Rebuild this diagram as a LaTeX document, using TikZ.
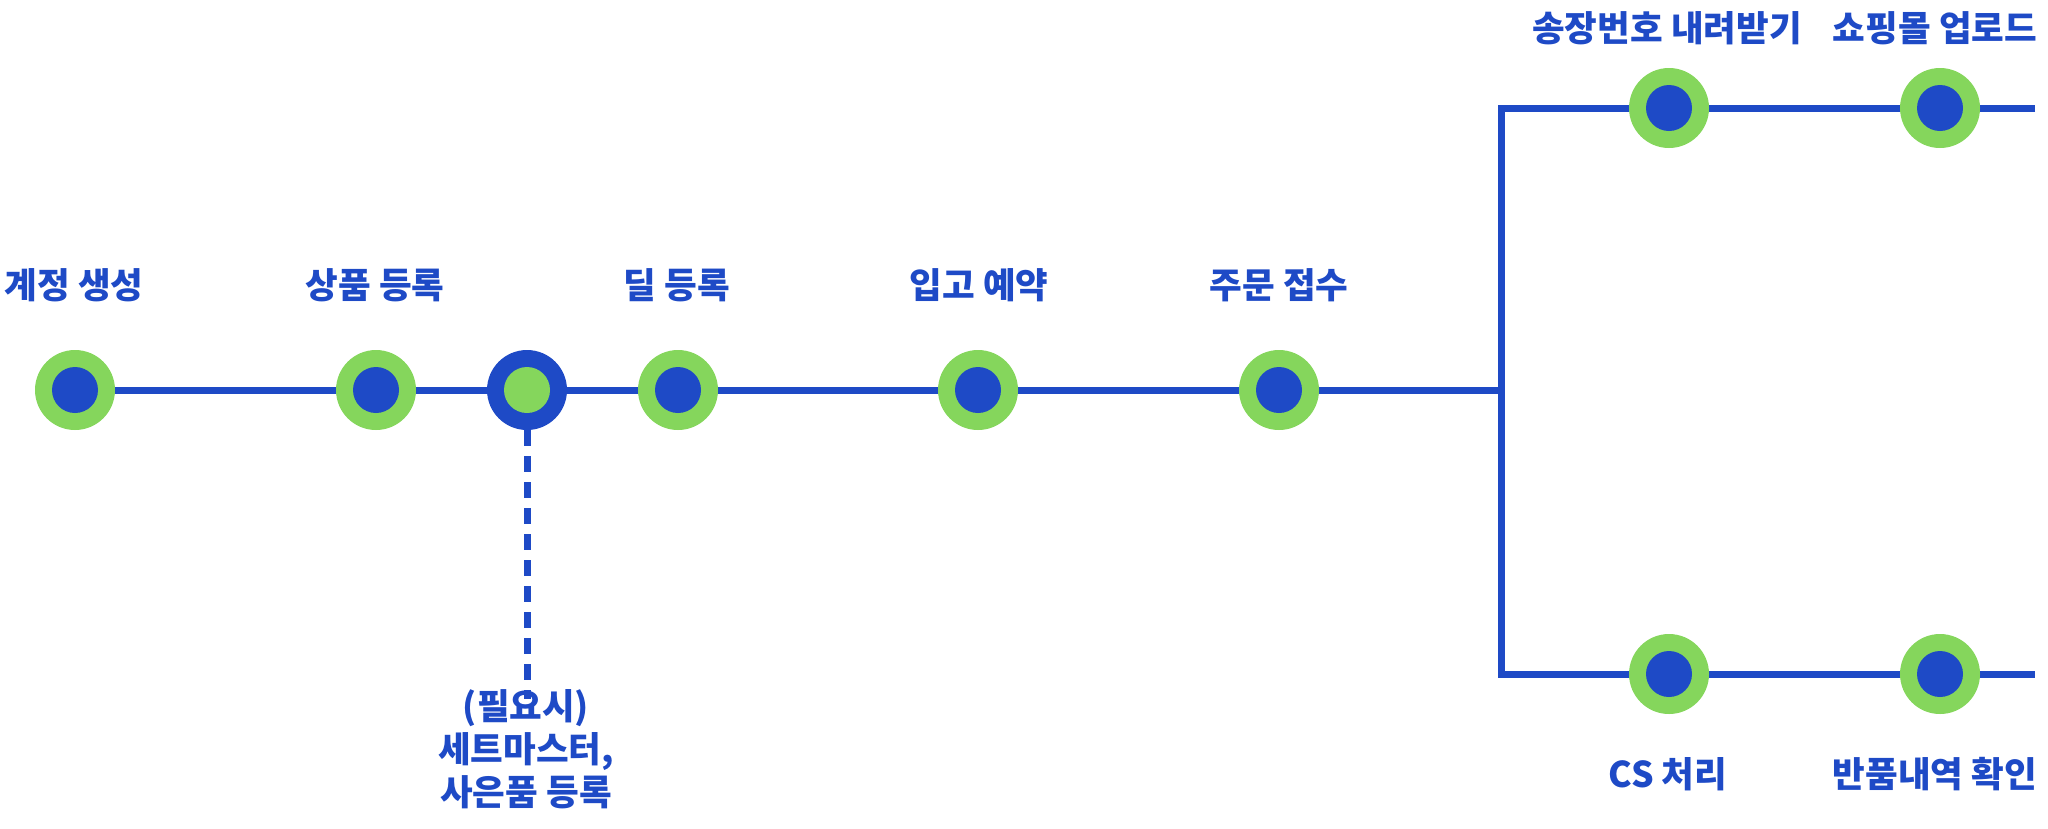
\documentclass[tikz,border=0pt]{standalone}
\usepackage{fontspec}
\newfontfamily\kr{Noto Sans CJK KR}
\definecolor{lineblue}{RGB}{30,74,198}
\definecolor{dotgreen}{RGB}{133,214,92}
\begin{document}
\begin{tikzpicture}[x=1pt,y=-1pt,
  conn/.style={draw=lineblue,line width=7pt},
  dashconn/.style={draw=lineblue,line width=7pt,dash pattern=on 16pt off 10pt},
  stepdot/.style={circle,fill=dotgreen,minimum size=80pt,inner sep=0pt,
     path picture={\fill[lineblue] (path picture bounding box.center) circle (23pt);}},
  optdot/.style={circle,fill=lineblue,minimum size=80pt,inner sep=0pt,
     path picture={\fill[dotgreen] (path picture bounding box.center) circle (23pt);}},
  lbl/.style={text=lineblue,inner sep=0pt,font=\kr\bfseries\fontsize{35.5}{43}\selectfont,align=center}]
\useasboundingbox (0,0) rectangle (2048,828);
% junction coordinates
\coordinate (j) at (1501,390);
\coordinate (jt) at (1501,108);
\coordinate (jb) at (1501,674);
\coordinate (et) at (2035,108);
\coordinate (eb) at (2035,674);
\coordinate (dend) at (527,699);
% lines
\draw[conn] (75,390) -- (j);
\draw[conn,line join=miter] (et) -- (jt) -- (jb) -- (eb);
% nodes
\node[stepdot] (n1) at (75,390) {};
\node[stepdot] (n2) at (376,390) {};
\node[optdot] (n3) at (527,390) {};
\node[stepdot] (n4) at (678,390) {};
\node[stepdot] (n5) at (978,390) {};
\node[stepdot] (n6) at (1279,390) {};
\node[stepdot] (t1) at (1669,108) {};
\node[stepdot] (t2) at (1940,108) {};
\node[stepdot] (b1) at (1669,674) {};
\node[stepdot] (b2) at (1940,674) {};
\draw[dashconn] (n3.south) -- (dend);
% labels
\node[lbl] (l1) at (74,285) {계정 생성};
\node[lbl] (l2) at (375,285) {상품 등록};
\node[lbl] (l4) at (677,285) {딜 등록};
\node[lbl] (l5) at (979,285) {입고 예약};
\node[lbl] (l6) at (1279,285) {주문 접수};
\node[lbl] (lt1) at (1667,28) {송장번호 내려받기};
\node[lbl] (lt2) at (1935,28) {쇼핑몰 업로드};
\node[lbl] (lb1) at (1668,774) {CS 처리};
\node[lbl] (lb2) at (1935,774) {반품내역 확인};
\node[lbl,anchor=north] (l3) at (526,689) {(필요시)\\세트마스터,\\사은품 등록};
\end{tikzpicture}
\end{document}
